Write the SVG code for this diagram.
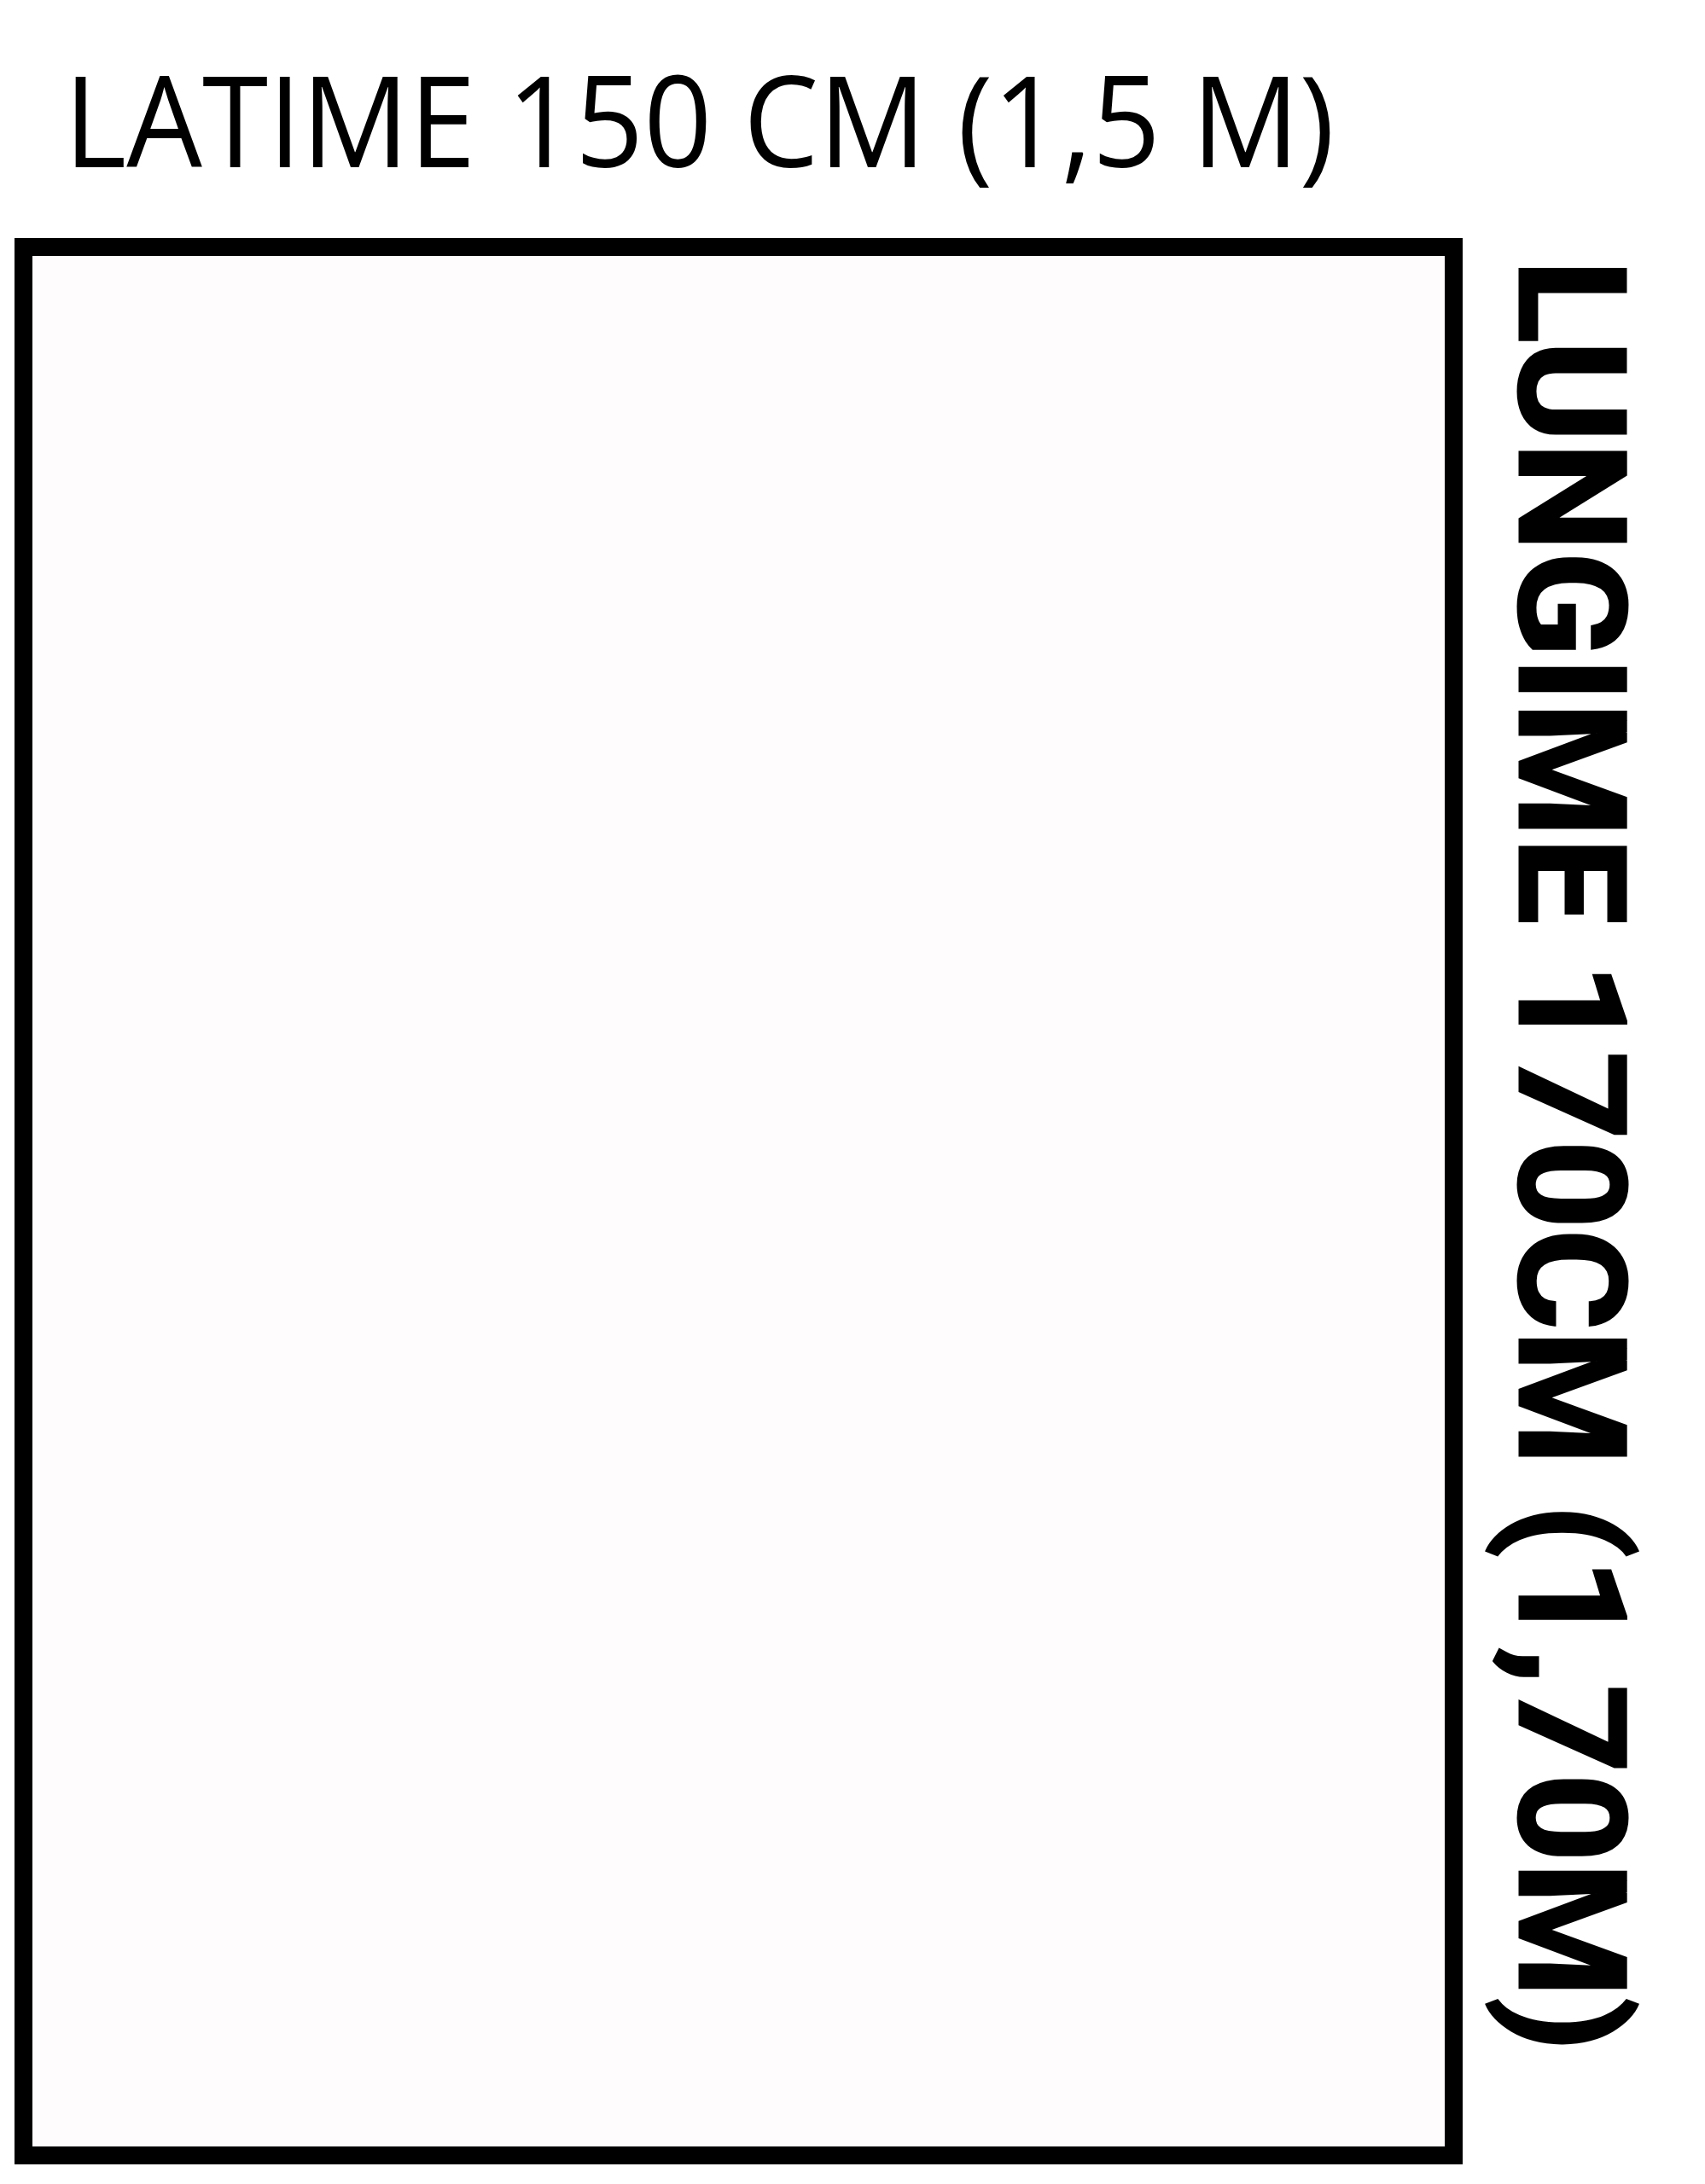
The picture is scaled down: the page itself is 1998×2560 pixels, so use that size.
<svg xmlns="http://www.w3.org/2000/svg" width="1998" height="2560" viewBox="0 0 1998 2560">
  <style>
    .frame { fill: #fffcfd; stroke: #000; stroke-width: 21; }
    .top { font-family: "Open Sans", "Liberation Sans", sans-serif; font-size: 149px; fill: #000; }
    .side { font-family: Roboto, "Liberation Sans", sans-serif; font-weight: 700; font-size: 175px; fill: #000; stroke: #000; stroke-width: 3; stroke-linejoin: miter; }
  </style>
  <rect x="0" y="0" width="1998" height="2560" fill="#ffffff"/>
  <g id="frame">
    <rect class="frame" x="27.5" y="289.5" width="1676" height="2237"/>
  </g>
  <g id="label-width">
    <text class="top" x="75" y="196" textLength="1489" lengthAdjust="spacingAndGlyphs">LATIME 150 CM (1,5 M)</text>
  </g>
  <g id="label-length">
    <text class="side" transform="translate(1781,304) rotate(90)" x="0" y="0" textLength="2101" lengthAdjust="spacingAndGlyphs">LUNGIME 170CM (1,70M)</text>
  </g>
  <g id="connectors"></g>
</svg>
